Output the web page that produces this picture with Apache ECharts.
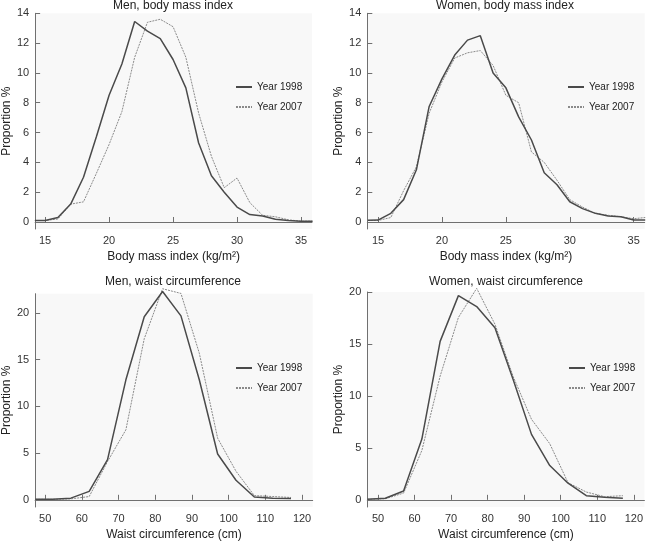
<!DOCTYPE html>
<html><head><meta charset="utf-8">
<script src="https://cdn.jsdelivr.net/npm/echarts@6/dist/echarts.min.js"></script>
<style>html,body{margin:0;padding:0;background:#fff}#c{width:646px;height:542px}</style>
</head><body><div id="c"></div>
<script>
// ---- data ----
const bmiX = [14.2, 15, 16, 17, 18, 19, 20, 21, 22, 23, 24, 25, 26, 27, 28, 29, 30, 31, 32, 33, 34, 35, 35.9];
const menBmi1998 = [0.1, 0.1, 0.3, 1.2, 3.0, 5.7, 8.5, 10.6, 13.45, 12.8, 12.3, 10.9, 9.0, 5.3, 3.1, 2.0, 1.0, 0.5, 0.4, 0.18, 0.1, 0.05, 0.05];
const menBmi2007 = [0.1, 0.1, 0.2, 1.2, 1.35, 3.25, 5.2, 7.4, 11.05, 13.4, 13.6, 13.1, 11.05, 7.3, 4.4, 2.3, 2.95, 1.3, 0.45, 0.35, 0.15, 0.05, 0.05];
const womenBmi1998 = [0.12, 0.13, 0.58, 1.5, 3.5, 7.75, 9.6, 11.2, 12.2, 12.5, 10.0, 9.0, 7.05, 5.5, 3.3, 2.5, 1.36, 0.9, 0.58, 0.4, 0.35, 0.13, 0.13];
const womenBmi2007 = [0.1, 0.1, 0.3, 2.1, 3.7, 7.3, 9.4, 11.0, 11.35, 11.5, 10.5, 8.5, 8.0, 4.7, 4.0, 2.8, 1.5, 1.0, 0.58, 0.45, 0.35, 0.22, 0.3];
const waistXMen = [47.3, 52, 57, 62, 67, 72, 77, 82, 87, 92, 97, 102, 107, 112, 117];
const waistXWomen = [47.1, 52, 57, 62, 67, 72, 77, 82, 87, 92, 97, 102, 107, 112, 117];
const menWaist1998 = [0.05, 0.07, 0.18, 0.9, 4.3, 12.85, 19.6, 22.3, 19.7, 12.85, 4.9, 2.1, 0.3, 0.18, 0.15];
const menWaist2007 = [0.05, 0.05, 0.1, 0.35, 4.1, 7.5, 17.25, 22.6, 22.1, 15.7, 6.6, 3.06, 0.45, 0.35, 0.25];
const womenWaist1998 = [0.05, 0.15, 0.85, 5.85, 15.25, 19.65, 18.6, 16.55, 11.55, 6.3, 3.3, 1.6, 0.4, 0.25, 0.15];
const womenWaist2007 = [0.05, 0.1, 0.65, 4.75, 11.9, 17.55, 20.35, 16.9, 11.85, 7.75, 5.4, 1.65, 0.75, 0.3, 0.4];
const bmiTicksX = [15, 20, 25, 30, 35];
const bmiTicksY = [0, 2, 4, 6, 8, 10, 12, 14];
const waistTicksX = [50, 60, 70, 80, 90, 100, 110, 120];
const waistTicksYMen = [0, 5, 10, 15, 20];
const waistTicksYWomen = [0, 5, 10, 15, 20];
const titles = ['Men, body mass index', 'Women, body mass index', 'Men, waist circumference', 'Women, waist circumference'];
const xNames = ['Body mass index (kg/m²)', 'Body mass index (kg/m²)', 'Waist circumference (cm)', 'Waist circumference (cm)'];
const yName = 'Proportion %';
const seriesNames = ['Year 1998', 'Year 2007'];

// ---- layout ----
const FONT = "'Liberation Sans Narrow', 'Liberation Sans', Arial, sans-serif";
const panels = [
  {grid: {left: 35, top: 13.3, width: 277, height: 215.7}, x: [14.22, 35.86], y: [-0.47, 14], xt: bmiTicksX, yt: bmiTicksY, xs: bmiX, s: [menBmi1998, menBmi2007], title: [173, 0], legend: [235, 82]},
  {grid: {left: 367.3, top: 13.3, width: 277.4, height: 215.7}, x: [14.16, 35.86], y: [-0.47, 14], xt: bmiTicksX, yt: bmiTicksY, xs: bmiX, s: [womenBmi1998, womenBmi2007], title: [505, 0], legend: [567, 82]},
  {grid: {left: 35, top: 293.7, width: 277.7, height: 216.3}, x: [47.27, 122.9], y: [-0.77, 22.07], xt: waistTicksX, yt: waistTicksYMen, xs: waistXMen, s: [menWaist1998, menWaist2007], title: [173, 276], legend: [235, 363]},
  {grid: {left: 367.3, top: 292, width: 277.4, height: 218}, x: [47.07, 122.9], y: [-0.69, 20], xt: waistTicksX, yt: waistTicksYWomen, xs: waistXWomen, s: [womenWaist1998, womenWaist2007], title: [506, 276], legend: [568, 363]}
];

const axisLineStyle = {color: '#707070', width: 1};
const labelStyle = {color: '#333', fontSize: 11, fontFamily: FONT};
const lineStyles = [
  {color: '#4a4a4a', width: 1.5, type: 'solid'},
  {color: '#8a8a8a', width: 1, type: [2, 1]}
];

const option = {
  backgroundColor: '#fff',
  animation: false,
  title: [], grid: [], xAxis: [], yAxis: [], series: [], legend: []
};
panels.forEach((p, i) => {
  option.title.push({text: titles[i], left: p.title[0], top: p.title[1], textAlign: 'center', padding: 0,
    textStyle: {fontSize: 12, fontWeight: 'normal', color: '#222', fontFamily: FONT}});
  option.grid.push(Object.assign({show: true, backgroundColor: '#f8f8f8', borderWidth: 0}, p.grid));
  option.xAxis.push({type: 'value', gridIndex: i, min: p.x[0], max: p.x[1],
    name: xNames[i], nameLocation: 'middle', nameGap: 22,
    nameTextStyle: {fontSize: 12, color: '#222', fontFamily: FONT},
    axisLine: {show: true, lineStyle: axisLineStyle},
    axisTick: {show: true, inside: true, length: 5, customValues: p.xt, lineStyle: axisLineStyle},
    axisLabel: {customValues: p.xt, margin: 6, ...labelStyle},
    splitLine: {show: false}});
  option.yAxis.push({type: 'value', gridIndex: i, min: p.y[0], max: p.y[1],
    name: yName, nameLocation: 'middle', nameGap: 21,
    nameTextStyle: {fontSize: 12, color: '#222', fontFamily: FONT},
    axisLine: {show: true, lineStyle: axisLineStyle},
    axisTick: {show: true, inside: true, length: 5, customValues: p.yt, lineStyle: axisLineStyle},
    axisLabel: {customValues: p.yt, margin: 6, ...labelStyle},
    splitLine: {show: false}});
  p.s.forEach((ys, k) => {
    option.series.push({type: 'line', name: seriesNames[k], xAxisIndex: i, yAxisIndex: i,
      data: p.xs.map((x, j) => [x, ys[j]]), symbol: 'none', clip: false, z: k === 0 ? 3 : 2,
      lineStyle: lineStyles[k], itemStyle: {color: lineStyles[k].color}});
  });
  option.legend.push({left: p.legend[0], top: p.legend[1], orient: 'vertical', itemWidth: 16, itemHeight: 10, itemGap: 10,
    padding: 0, data: seriesNames, selectedMode: false, itemStyle: {opacity: 0},
    textStyle: {fontSize: 10, color: '#222', fontFamily: FONT}});
});
const chart = echarts.init(document.getElementById('c'), null, {renderer: 'canvas'});
chart.setOption(option);
</script></body></html>
